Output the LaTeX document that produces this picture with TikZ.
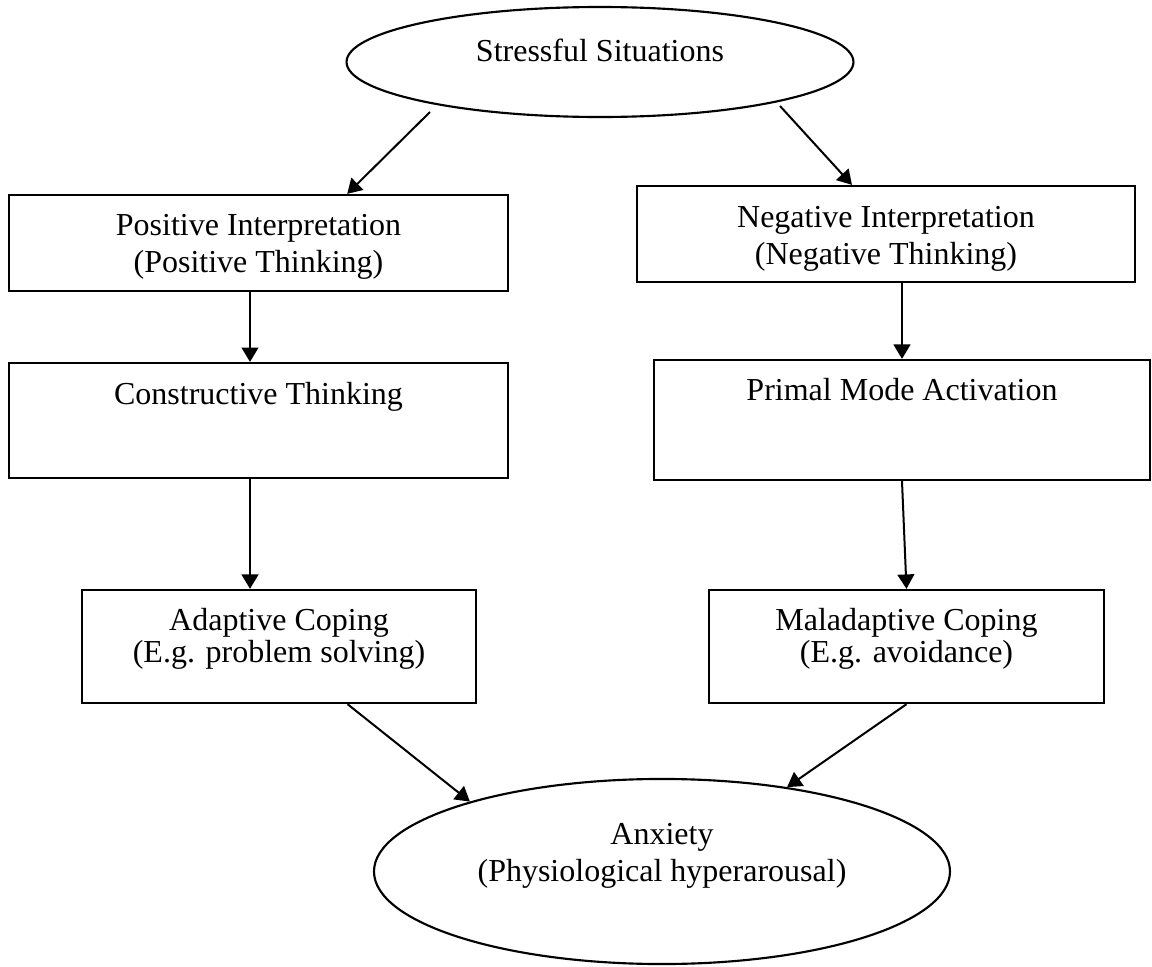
\documentclass[tikz,border=0pt]{standalone}
\usepackage{fontspec}
\setmainfont{Liberation Serif}
\usetikzlibrary{shapes.geometric,arrows.meta,calc}
\newcommand{\boxtext}[2]{\fontsize{12pt}{#1}\selectfont\begin{tabular}[t]{@{}c@{}}#2\end{tabular}}

\begin{document}
\begin{tikzpicture}[x=0.375pt,y=-0.375pt,
  box/.style={draw,line width=0.85pt,inner sep=0pt},
  oval/.style={ellipse,draw,line width=0.8pt,inner sep=0pt},
  txt/.style={anchor=base,inner sep=0pt,font=\fontsize{12pt}{14pt}\selectfont},
  arr/.style={line width=0.75pt,-{Triangle[length=5.4pt,width=6.3pt]}}]
\useasboundingbox (0,0) rectangle (1152,967);

\node[oval,minimum width=190.1pt,minimum height=41.25pt] (sit) at (600,62) {};
\node[box,minimum width=187.1pt,minimum height=36pt] (pos) at (258.5,243) {};
\node[box,minimum width=186.75pt,minimum height=36pt] (neg) at (886,234) {};
\node[box,minimum width=187.1pt,minimum height=43.1pt] (con) at (258.5,420.5) {};
\node[box,minimum width=186pt,minimum height=45pt] (pri) at (902,420) {};
\node[box,minimum width=147.75pt,minimum height=42.4pt] (ada) at (279,646.5) {};
\node[box,minimum width=148.1pt,minimum height=42.4pt] (mal) at (906.5,646.5) {};
\node[oval,minimum width=216pt,minimum height=69.4pt] (anx) at (662,871.5) {};

\node[txt] (sitT) at (600,61) {Stressful Situations};
\node[txt] (posT) at (258.5,235) {\boxtext{13.9pt}{Positive Interpretation\\(Positive Thinking)}};
\node[txt] (negT) at (886,227) {\boxtext{13.9pt}{Negative Interpretation\\(Negative Thinking)}};
\node[txt] (conT) at (258.5,404) {Constructive Thinking};
\node[txt] (priT) at (902,400) {Primal Mode Activation};
\node[txt] (adaT) at (279,630) {\boxtext{12pt}{Adaptive Coping\\(E.g. problem solving)}};
\node[txt] (malT) at (906.5,630) {\boxtext{12pt}{Maladaptive Coping\\(E.g. avoidance)}};
\node[txt] (anxT) at (662,844) {\boxtext{13.9pt}{Anxiety\\(Physiological hyperarousal)}};

\coordinate (sitL) at (430,112);
\coordinate (sitR) at (780,106);
\coordinate (lane) at (250,0);

\draw[arr] (sitL) -- ($(pos.north west)!0.677!(pos.north east)$);
\draw[arr] (sitR) -- ($(neg.north west)!0.432!(neg.north east)$);
\draw[arr] (pos.south -| lane) -- (con.north -| lane);
\draw[arr] (neg.south -| pri.north) -- (pri.north);
\draw[arr] (con.south -| lane) -- (ada.north -| lane);
\draw[arr] (pri.south) -- (mal.north);
\draw[arr] ($(ada.south west)!0.673!(ada.south east)$) -- (anx.160);
\draw[arr] (mal.south) -- (anx.34);
\end{tikzpicture}
\end{document}
